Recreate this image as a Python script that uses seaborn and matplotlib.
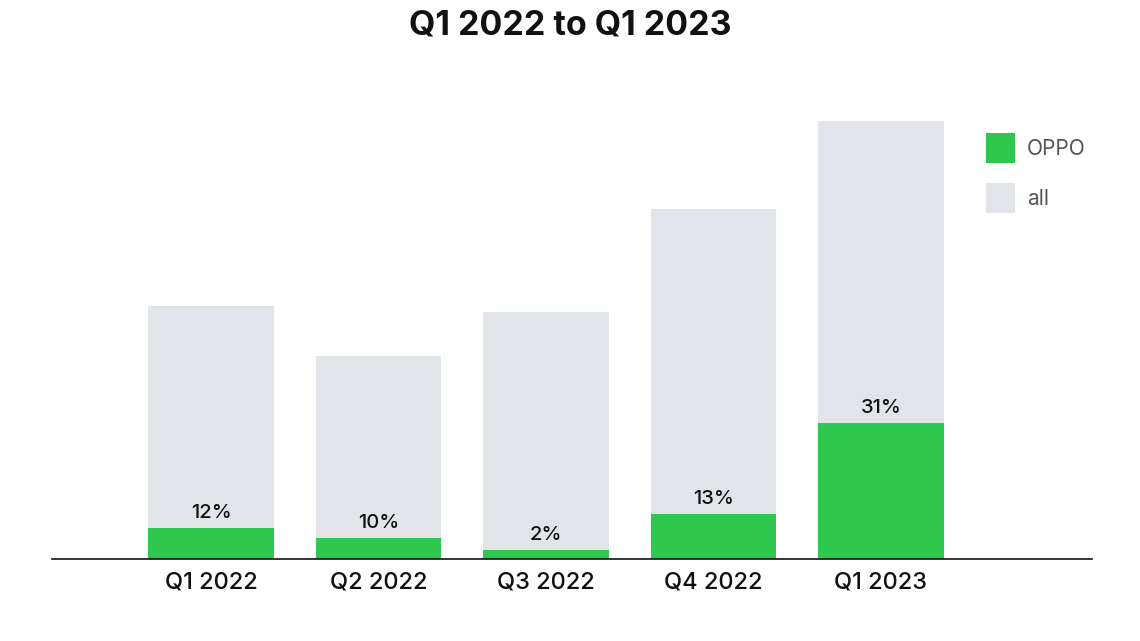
import matplotlib
matplotlib.use("Agg")
import matplotlib.pyplot as plt
from matplotlib.patches import Patch
import seaborn as sns
import pandas as pd

quarters = ["Q1 2022", "Q2 2022", "Q3 2022", "Q4 2022", "Q1 2023"]
all_values = [253, 203, 247, 350, 438]
oppo_values = [31, 21, 9, 45, 136]
share_labels = ["12%", "10%", "2%", "13%", "31%"]
title = "Q1 2022 to Q1 2023"

GREEN = "#2ec84f"
GRAY = "#e1e4e9"

sns.set_theme(style="white")
plt.rcParams["font.family"] = ["Inter", "DejaVu Sans"]

df = pd.DataFrame({"quarter": quarters, "all": all_values, "OPPO": oppo_values})

fig = plt.figure(figsize=(11.4, 6.41), dpi=100)
ax = fig.add_axes([52 / 1140, 1 - 559 / 641, 1040 / 1140, 479 / 641])

sns.barplot(data=df, x="quarter", y="all", color=GRAY, width=0.75, ax=ax,
            saturation=1, order=quarters, linewidth=0)
sns.barplot(data=df, x="quarter", y="OPPO", color=GREEN, width=0.75, ax=ax,
            saturation=1, order=quarters, linewidth=0)

for i, (v, lab) in enumerate(zip(oppo_values, share_labels)):
    ax.annotate(lab, (i, v), xytext=(0, 4.5), textcoords="offset points",
                ha="center", va="bottom", fontsize=14.5, fontweight="medium",
                color="#111111")

ax.set_xlim(-0.95, 5.26)
ax.set_ylim(0, 479)
ax.set_xlabel("")
ax.set_ylabel("")
ax.set_yticks([])
ax.tick_params(axis="x", length=0, pad=9, labelsize=17, labelcolor="#111111")
for lbl in ax.get_xticklabels():
    lbl.set_fontweight("medium")
for s in ["top", "right", "left"]:
    ax.spines[s].set_visible(False)
ax.spines["bottom"].set_color("#111111")
ax.spines["bottom"].set_linewidth(1.2)

fig.text(0.5, 1 - 25 / 641, title, ha="center", va="center",
         fontsize=24.5, fontweight="bold", color="#111111")

handles = [Patch(facecolor=GREEN, edgecolor="none", label="OPPO"),
           Patch(facecolor=GRAY, edgecolor="none", label="all")]
leg = fig.legend(handles=handles, loc="upper left",
                 bbox_to_anchor=(986 / 1140, 1 - 133 / 641),
                 bbox_transform=fig.transFigure, frameon=False,
                 fontsize=15, handlelength=1.4, handleheight=1.85,
                 labelspacing=0.95, handletextpad=0.55, borderpad=0,
                 borderaxespad=0)
for t in leg.get_texts():
    t.set_color("#555555")

fig.savefig("out.png", dpi=100)
